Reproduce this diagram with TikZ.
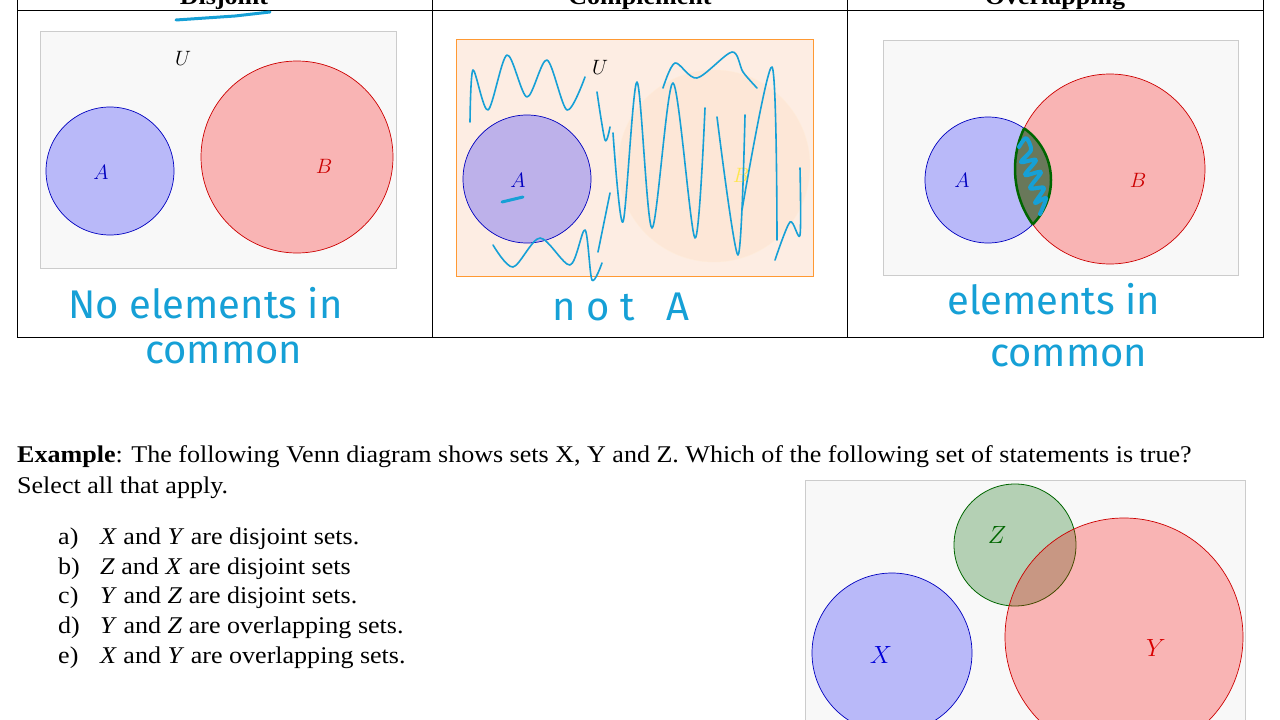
\documentclass[tikz,border=0pt]{standalone}
\usepackage{fontspec}
\setmainfont{Liberation Serif}[FakeStretch=1.085]
\newfontfamily\handfont{Fira Sans}
\usepackage{xcolor}
\usetikzlibrary{positioning}
\definecolor{handblue}{RGB}{22,160,214}
\definecolor{boxgray}{RGB}{248,248,248}
\definecolor{compfill}{RGB}{253,237,227}
\definecolor{lensfill}{RGB}{105,120,90}

\begin{document}
\begin{tikzpicture}[x=1pt, y=-1pt, font=\fontsize{24}{28}\selectfont]
  % ------- styles -------
  \tikzstyle{frame}=[draw=black, line width=0.8pt]
  \tikzstyle{venn}=[fill=boxgray, draw=black!20, line width=0.8pt]
  \tikzstyle{setblue}=[fill=blue, fill opacity=0.25, draw=blue!75!black, line width=0.7pt]
  \tikzstyle{setred}=[fill=red, fill opacity=0.27, draw=red!80!black, line width=0.7pt]
  \tikzstyle{setgreen}=[fill=green!40!black, fill opacity=0.27, draw=green!40!black, line width=0.8pt]
  \tikzstyle{lbl}=[font=\fontsize{21}{21}\selectfont]
  \tikzstyle{head}=[font=\bfseries\fontsize{24}{26}\selectfont, anchor=base]
  \tikzstyle{body}=[anchor=base west, inner sep=0pt]
  \tikzstyle{hand}=[text=handblue, font=\handfont\fontsize{40}{42}\selectfont, anchor=base west, inner sep=0pt]
  \tikzstyle{scribble}=[draw=handblue, line width=1.6pt, line cap=round, line join=round]

  \clip (0,0) rectangle (1280,720);

  % ------- table -------
  \node[head] (hdis)  at (224,5)  {Disjoint};
  \node[head] (hcomp) at (640,5)  {Complement};
  \node[head] (hover) at (1055,5) {Overlapping};
  \draw[frame] (17,0) -- (17,337) -- (1263,337) -- (1263,0);
  \draw[frame] (17,10) -- (1263,10);
  \draw[frame] (432,0) -- (432,337);
  \draw[frame] (847,0) -- (847,337);
  \draw[scribble, line width=3pt] (176,20) -- (235,16) -- (270,12);

  % ------- disjoint -------
  \draw[venn] (40,31) rectangle (396,268);
  \draw[setblue] (110,171) circle[radius=64];
  \draw[setred] (297,157) circle[radius=96];
  \node[lbl] (u1) at (183,58) {$U$};
  \node[lbl, text=blue!75!black] (a1) at (101,172) {$A$};
  \node[lbl, text=red!80!black] (b1) at (324,166) {$B$};
  \node[hand] (h1) at (68,318) {No elements in};
  \node[hand] (h2) at (145,363) {common};

  % ------- complement -------
  \draw[fill=compfill, draw=orange!80, line width=0.8pt] (456,39) rectangle (813,276);
  \draw[fill=orange, fill opacity=0.05, draw=orange!15] (714,166) circle[radius=96];
  \draw[setblue] (527,179) circle[radius=64];
  \node[lbl] (u2) at (600,67) {$U$};
  \node[lbl, text=blue!75!black] (a2) at (518,180) {$A$};
  \node[lbl, text=yellow!80!orange!70] (b2) at (741,175) {$B$};
  \draw[scribble, line width=3pt] (502,202) -- (523,197);
  % scribbles over the complement
  \draw[scribble] plot[smooth] coordinates {(470,122) (473,70) (488,110) (507,55) (527,97) (547,60) (567,110) (585,77)};
  \draw[scribble] plot[smooth] coordinates {(597,92) (605,140) (610,127)};
  \draw[scribble] plot[smooth] coordinates {(613,133) (623,222) (637,82) (652,228) (673,83) (695,238) (705,108)};
  \draw[scribble] plot[smooth] coordinates {(717,117) (738,255) (745,115)};
  \draw[scribble] plot[smooth] coordinates {(742,210) (772,67) (777,240)};
  \draw[scribble] plot[smooth] coordinates {(775,260) (790,222) (800,235) (800,168)};
  \draw[scribble] plot[smooth] coordinates {(663,88) (675,63) (697,78) (732,52) (743,72) (757,88)};
  \draw[scribble] plot[smooth] coordinates {(493,245) (513,267) (540,238) (570,265) (585,230) (592,280) (602,263)};
  \draw[scribble] plot[smooth] coordinates {(598,252) (610,193)};
  \node[hand] (h3) at (552,320) {n o t \ \ A};

  % ------- overlapping -------
  \draw[venn] (883,40) rectangle (1238,275);
  \draw[setblue] (988,180) circle[radius=63];
  \draw[setred] (1110,169) circle[radius=95];
  \begin{scope}
    \clip (988,180) circle[radius=63];
    \fill[lensfill] (1110,169) circle[radius=95];
    \draw[green!40!black, line width=2.5pt] (1110,169) circle[radius=95];
  \end{scope}
  \begin{scope}
    \clip (1110,169) circle[radius=95];
    \draw[green!40!black, line width=2.5pt] (988,180) circle[radius=63];
  \end{scope}
  \draw[scribble, line width=4pt] plot[smooth] coordinates {(1019,147) (1026,138) (1031,150) (1021,162) (1036,160) (1025,175) (1041,172) (1030,188) (1044,188) (1035,203) (1046,198) (1040,214)};
  \node[lbl, text=blue!75!black] (a3) at (962,180) {$A$};
  \node[lbl, text=red!80!black] (b3) at (1138,180) {$B$};
  \node[hand] (h4) at (947,314) {elements in};
  \node[hand] (h5) at (990,366) {common};

  % ------- example -------
  \node[body] (ex) at (17,462) {\textbf{Example}: The following Venn diagram shows sets X, Y and Z. Which of the following set of statements is true?};
  \node[body] (sel) at (17,493) {Select all that apply.};
  \node[body] (la) at (58,544) {a)};
  \node[body] (ta) at (100,544) {\textit{X} and \textit{Y} are disjoint sets.};
  \node[body] (lb) at (58,574) {b)};
  \node[body] (tb) at (100,574) {\textit{Z} and \textit{X} are disjoint sets};
  \node[body] (lc) at (58,603) {c)};
  \node[body] (tc) at (100,603) {\textit{Y} and \textit{Z} are disjoint sets.};
  \node[body] (ld) at (58,633) {d)};
  \node[body] (td) at (100,633) {\textit{Y} and \textit{Z} are overlapping sets.};
  \node[body] (le) at (58,663) {e)};
  \node[body] (te) at (100,663) {\textit{X} and \textit{Y} are overlapping sets.};

  % ------- X Y Z diagram -------
  \draw[venn] (805,480) rectangle (1245,730);
  \draw[setblue] (892,653) circle[radius=80];
  \draw[setgreen] (1015,545) circle[radius=61];
  \draw[setred] (1124,637) circle[radius=119];
  \node[lbl, font=\fontsize{25}{25}\selectfont, text=green!40!black] (zl) at (997,535) {$Z$};
  \node[lbl, font=\fontsize{25}{25}\selectfont, text=blue!85!black] (xl) at (881,655) {$X$};
  \node[lbl, font=\fontsize{25}{25}\selectfont, text=red!85!black] (yl) at (1156,648) {$Y$};
\end{tikzpicture}
\end{document}
